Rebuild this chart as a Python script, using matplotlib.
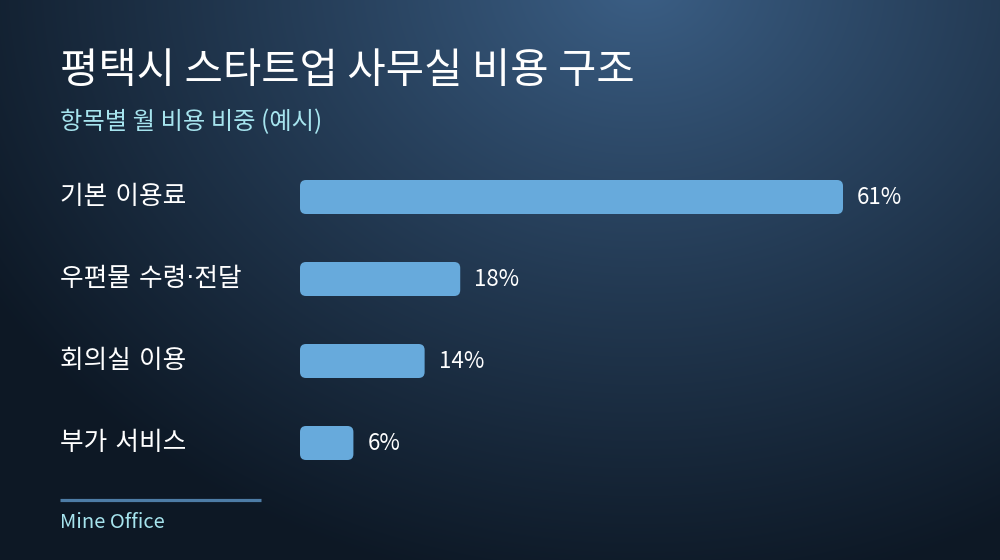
import matplotlib
matplotlib.use("Agg")
import matplotlib.pyplot as plt
import matplotlib.transforms as mtransforms
from matplotlib.patches import FancyBboxPatch
import numpy as np

plt.rcParams['font.family'] = ['Noto Sans CJK KR', 'DejaVu Sans']

# data
categories = ['기본 이용료', '우편물 수령·전달', '회의실 이용', '부가 서비스']
shares = [61, 18, 14, 6]
title = '평택시 스타트업 사무실 비용 구조'
subtitle = '항목별 월 비용 비중 (예시)'
source = 'Mine Office'

W, H = 1000, 560
fig = plt.figure(figsize=(10, 5.6), dpi=100)

# background radial gradient
bg = fig.add_axes([0, 0, 1, 1])
bg.set_axis_off()
yy, xx = np.mgrid[0:H, 0:W]
d = np.sqrt(((xx - 640) / 760.0) ** 2 + ((yy + 20) / 620.0) ** 2)
d = np.clip(d, 0, 1)
c0 = np.array([0x3c, 0x60, 0x87]) / 255.0
c1 = np.array([0x0d, 0x18, 0x25]) / 255.0
t = d[..., None] ** 0.9
img = c0 * (1 - t) + c1 * t
bg.imshow(img, extent=[0, W, H, 0], aspect='auto')
bg.set_xlim(0, W)
bg.set_ylim(H, 0)

# bar axes: 300px..1000px, y 156..484
ax = fig.add_axes([0.3, 1 - 484 / H, 0.7, 328 / H])
ax.set_axis_off()
ax.patch.set_alpha(0)
px_per_unit = 543 / 61
ax.set_xlim(0, 700 / px_per_unit)
ax.set_ylim(len(categories) - 0.5, -0.5)

ypos = np.arange(len(categories))
bars = ax.barh(ypos, shares, height=34 / 82, color='#67aadc')
aspect = (1 / 82) / (1 / px_per_unit)
for r in bars:
    x0, y0 = r.get_x(), r.get_y()
    w, h = r.get_width(), r.get_height()
    r.remove()
    ax.add_patch(FancyBboxPatch((x0, y0), w, h,
                                boxstyle='round,pad=0,rounding_size=%f' % (6 / px_per_unit),
                                mutation_aspect=aspect, fc='#67aadc', ec='none'))

for y, v in zip(ypos, shares):
    ax.text(v + 14 / px_per_unit, y, f'{v}%', color='white', fontsize=16,
            va='center', ha='left')

lab_tr = mtransforms.blended_transform_factory(fig.transFigure, ax.transData)
for y, c in zip(ypos, categories):
    ax.text(60 / W, y, c, transform=lab_tr, color='white', fontsize=18.5,
            va='center', ha='left', family=['DejaVu Sans', 'Noto Sans CJK KR'])

# titles
fig.text(60 / W, 1 - 72 / H, title, color='white', fontsize=30, fontweight='medium',
         va='center', ha='left')
fig.text(60 / W, 1 - 122 / H, subtitle, color='#a6e4ee', fontsize=17.5,
         va='center', ha='left')

# footer
bg.plot([60, 261], [500, 500], color='#4d7ca6', lw=2.3, solid_capstyle='butt')
fig.text(60 / W, 1 - 522 / H, source, color='#a6e4ee', fontsize=14.5,
         va='center', ha='left')

fig.savefig('out.png', dpi=100)
